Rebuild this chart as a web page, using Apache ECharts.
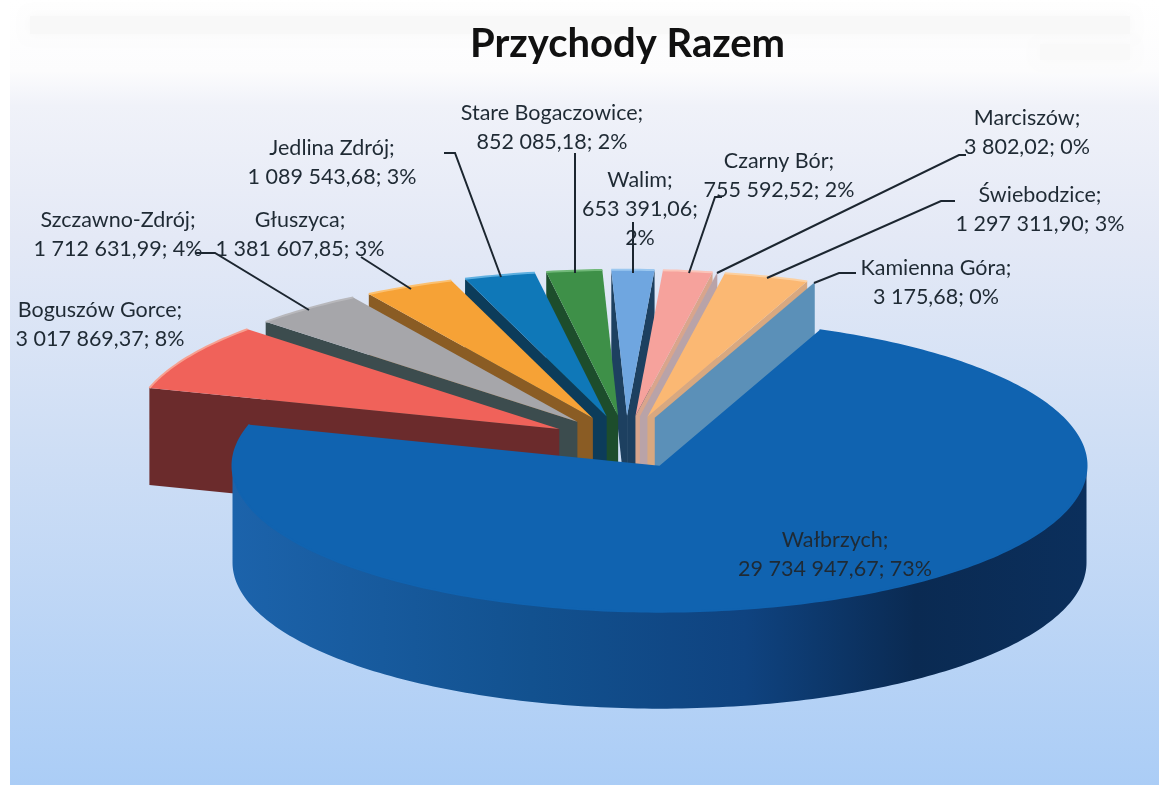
<!DOCTYPE html>
<html><head><meta charset="utf-8">
<style>html,body{margin:0;padding:0;background:#fff}#c{width:1159px;height:785px;filter:blur(0.5px)}</style>
<script src="https://cdn.jsdelivr.net/npm/echarts@6/dist/echarts.min.js"></script>
</head><body><div id="c"></div>
<script>
const titleText = 'Przychody Razem';
const names = ['Wałbrzych','Boguszów Gorce','Szczawno-Zdrój','Głuszyca','Jedlina Zdrój','Stare Bogaczowice','Walim','Czarny Bór','Marciszów','Świebodzice','Kamienna Góra'];
const values = [29734947.67,3017869.37,1712631.99,1381607.85,1089543.68,852085.18,653391.06,755592.52,3802.02,1297311.90,3175.68];
const percents = [73,8,4,3,3,2,2,2,0,3,0];

// styling and layout, kept apart from the data
const topColors = ['#1063b0','#f0625a','#a6a6aa','#f6a236','#0f78b8','#3e9048','#6fa6e0','#f6a29c','#c4a8ac','#fbb873','#6a9cc4'];
const rimColors = ['#1063b0','#f7a090','#b8b8bc','#fbc070','#5fb0e0','#70b878','#9cc8f0','#fbc4b8','#c4a8ac','#fcd0a0','#8ab4d4'];
const wallColors = ['#114f92','#6b2b2c','#3c4c4e','#8a5c24','#0c3c5a','#1d4d2c','#1d4060','#d9a58c','#b9a3a8','#d8a880','#5b90b8'];
const labelPos = [[835,555],[100,325],[118,235],[300,235],[332,163],[552,128],[640,209],[779,176],[1027,133],[1040,210],[936,283]];
const leaders = [null,null,[[196,253],[215,253],[309,310]],[[361,257],[411,289]],[[444,153],[455,153],[501,277]],[[575,153],[575,273]],[[633,222],[633,273]],[[722,197],[715,197],[689,273]],[[966,155],[959,155],[717,273]],[[955,201],[941,201],[767,278]],[[856,273],[839,273],[814,283]]];
const START = 22, CX = 626, CY = 442, RX = 427, RY = 146, EXPLODE = 0.18, DEPTH = 97;

const total = values.reduce((a, b) => a + b, 0);
const rad = d => d * Math.PI / 180;
const spans = [];
values.reduce((a, v) => { const e = a + v / total * 360; spans.push([a, e]); return e; }, START);
const drawRank = spans.map(s => { const m = ((s[0] + s[1]) / 2) % 360; return Math.min(m, 360 - m); });

function fmt(v) {
  const [i, d] = v.toFixed(2).split('.');
  return i.replace(/\B(?=(\d{3})+$)/g, ' ') + ',' + d;
}
function labelText(i) {
  const head = names[i] + ';\n' + fmt(values[i]) + ';';
  return head + (names[i] === 'Walim' ? '\n' : ' ') + percents[i] + '%';
}
function renderSlice(params, api) {
  const i = api.value(0);
  const [s, e] = spans[i];
  const m = (s + e) / 2;
  const ax = CX + EXPLODE * RX * Math.sin(rad(m));
  const ay = CY - EXPLODE * RY * Math.cos(rad(m));
  const pt = t => [ax + RX * Math.sin(rad(t)), ay - RY * Math.cos(rad(t))];
  const down = p => [p[0], p[1] + DEPTH];
  const arc = [];
  const n = Math.max(1, Math.ceil(e - s));
  for (let k = 0; k <= n; k++) arc.push(pt(s + (e - s) * k / n));
  const apex = [ax, ay];
  const z = drawRank[i] * 10;
  const kids = [];
  const wall = (p, fill, dz) => kids.push({ type: 'polygon', z2: z + dz, shape: { points: [apex, p, down(p), down(apex)] }, style: { fill } });
  if (Math.sin(rad(s)) < 0) wall(pt(s), wallColors[i], 0);
  if (Math.sin(rad(e)) > 0) wall(pt(e), wallColors[i], 0);
  const front = [];
  const a0 = Math.max(s, 90), a1 = Math.min(e, 270);
  if (a1 > a0) {
    for (let t = a0; t <= a1; t += 1) front.push(pt(t));
    const back = front.map(down).reverse();
    kids.push({ type: 'polygon', z2: z + 1, shape: { points: front.concat(back) }, style: {
      fill: new echarts.graphic.LinearGradient(0, 0, 1, 0, [
        { offset: 0, color: '#1c63ab' }, { offset: 0.35, color: '#12518f' }, { offset: 0.6, color: '#0f4380' },
        { offset: 0.8, color: '#0a2a52' }, { offset: 1, color: '#0b2f5c' }])
    } });
  }
  kids.push({ type: 'polygon', z2: z + 2, shape: { points: [apex].concat(arc) }, style: { fill: topColors[i] } });
  if (e - s > 1) kids.push({ type: 'polyline', z2: z + 3, shape: { points: arc }, style: { fill: 'none', stroke: rimColors[i], lineWidth: 2 } });
  return { type: 'group', children: kids };
}
function renderLabel(params, api) {
  const i = api.value(0);
  const kids = [];
  if (leaders[i]) kids.push({ type: 'polyline', shape: { points: leaders[i] }, style: { fill: 'none', stroke: '#1c2630', lineWidth: 2 } });
  kids.push({ type: 'text', x: labelPos[i][0], y: labelPos[i][1], style: {
    text: labelText(i), align: 'center', verticalAlign: 'middle', fill: '#1f2a34',
    fontFamily: 'Lato', fontSize: 21.5, lineHeight: 29 } });
  return { type: 'group', children: kids };
}
const rows = values.map((v, i) => [i, v, percents[i]]);
const chart = echarts.init(document.getElementById('c'), null, { renderer: 'canvas' });
chart.setOption({
  animation: false,
  title: { text: titleText, left: 465, top: 19,
    textStyle: { fontFamily: 'Lato', fontWeight: 'bold', fontSize: 40, color: '#111' } },
  graphic: { elements: [
    { type: 'rect', z: -10, shape: { x: 0, y: 0, width: 1159, height: 785 }, style: { fill: '#fff' } },
    { type: 'rect', z: -9, shape: { x: 10, y: 0, width: 1149, height: 785 }, style: {
      fill: new echarts.graphic.LinearGradient(0, 0, 0, 1, [
        { offset: 0, color: '#ffffff' }, { offset: 0.09, color: '#fcfcfd' }, { offset: 0.135, color: '#f0f2f9' },
        { offset: 0.3, color: '#e4e9f6' }, { offset: 0.55, color: '#d0dff5' }, { offset: 1, color: '#abcdf6' }]) } },
    { type: 'rect', z: -8, shape: { x: 30, y: 16, width: 1100, height: 18 }, style: { fill: '#f8f8f8', shadowBlur: 12, shadowColor: '#f8f8f8' } },
    { type: 'rect', z: -8, shape: { x: 1040, y: 44, width: 90, height: 16 }, style: { fill: '#f9f9f9', shadowBlur: 12, shadowColor: '#f9f9f9' } }
  ] },
  series: [
    { type: 'custom', coordinateSystem: 'none', renderItem: renderSlice, data: rows, silent: true, z: 2 },
    { type: 'custom', coordinateSystem: 'none', renderItem: renderLabel, data: rows, silent: true, z: 3 }
  ]
});
</script></body></html>
